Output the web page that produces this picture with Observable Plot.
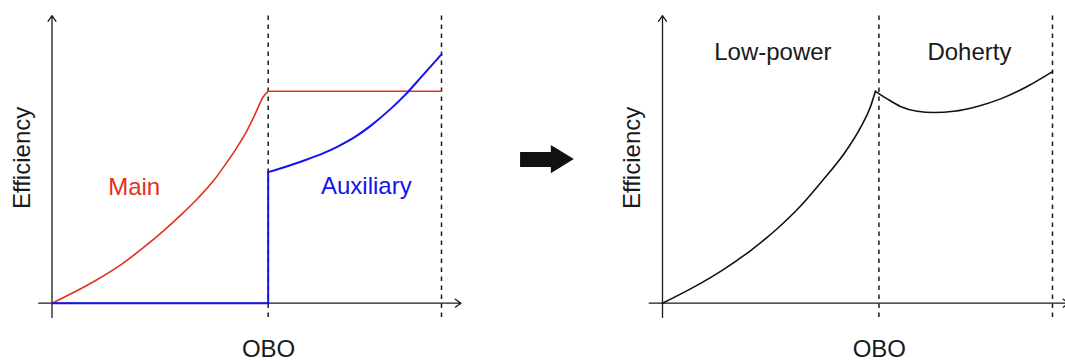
<!DOCTYPE html>
<html>
<head>
<meta charset="utf-8">
<script src="https://cdn.jsdelivr.net/npm/d3@7"></script>
<script src="https://cdn.jsdelivr.net/npm/@observablehq/plot@0.6"></script>
<style>
  html, body { margin: 0; padding: 0; background: #fff; overflow: hidden; }
  #wrap { position: relative; width: 1065px; height: 361px; }
  #left, #right { position: absolute; top: 0; }
  #left { left: 0; }
  #right { left: 610px; }
  svg { overflow: hidden; }
</style>
</head>
<body>
<div id="wrap"><div id="left"></div><div id="right"></div></div>
<script>
// ---------- data (OBO in arbitrary units 0..10, efficiency in arbitrary units) ----------
const boundaries = [5.55, 10];               // dashed OBO boundaries

// Left panel: Main amplifier
const mainRiseOBO = [0, 1.12, 1.80, 2.36, 2.87, 3.34, 3.77, 4.15, 4.45, 4.75, 5.01, 5.22, 5.42, 5.55];
const mainRiseEff = [0, 0.75, 1.30, 1.85, 2.40, 2.95, 3.50, 4.05, 4.58, 5.15, 5.71, 6.26, 6.81, 7.00];
const mainFlatOBO = [5.55, 10];
const mainFlatEff = [7.00, 7.00];

// Left panel: Auxiliary amplifier
const auxOffOBO = [0, 5.55, 5.55];
const auxOffEff = [0, 0, 4.33];
const auxRiseOBO = [5.55, 6.08, 6.51, 6.94, 7.36, 7.79, 8.22, 8.65, 9.08, 9.50, 10.0];
const auxRiseEff = [4.33, 4.54, 4.73, 4.94, 5.19, 5.50, 5.90, 6.37, 6.90, 7.50, 8.22];

// Right panel: combined efficiency
const lowOBO = [0, 0.80, 1.57, 2.26, 2.94, 3.54, 4.14, 4.65, 5.08, 5.33, 5.46];
const lowEff = [0, 0.53, 1.12, 1.74, 2.46, 3.21, 4.11, 4.93, 5.81, 6.48, 7.00];
const dohOBO = [5.46, 5.76, 6.10, 6.53, 6.96, 7.47, 8.07, 8.67, 9.35, 10.0];
const dohEff = [7.00, 6.75, 6.50, 6.34, 6.30, 6.34, 6.50, 6.75, 7.16, 7.65];

// Text labels
const leftLabels  = ["Main", "Auxiliary"];
const rightLabels = ["Low-power", "Doherty"];
const xTitle = "OBO";
const yTitle = "Efficiency";

// ---------- layout / style ----------
const RED = "#e2311f", BLUE = "#1414ee", INK = "#1a1a1a";
const FONT = "'Liberation Sans', Arial, Helvetica, sans-serif";
const yTop = 9.5, yBot = -0.47, xStart = -0.34;

const pts = (xs, ys) => xs.map((x, i) => ({x, y: ys[i]}));

function axesMarks(xEnd) {
  const axisLines = [
    {x1: xStart, y1: 0, x2: xEnd, y2: 0},
    {x1: 0, y1: yBot, x2: 0, y2: yTop}
  ];
  return [
    Plot.ruleX(boundaries.map(b => ({x: b, y1: yBot, y2: yTop})), {x: "x", y1: "y1", y2: "y2",
      stroke: INK, strokeWidth: 1.5, strokeDasharray: "4.5,4.5"}),
    Plot.arrow(axisLines, {x1: "x1", y1: "y1", x2: "x2", y2: "y2",
      stroke: INK, strokeWidth: 1.3, headLength: 8, headAngle: 70})
  ];
}

function label(text, x, y, fill, rotate = 0) {
  return Plot.text([{text, x, y}], {x: "x", y: "y", text: "text", fill, fontSize: 24,
    rotate, textAnchor: "middle", lineAnchor: "bottom", fontFamily: FONT});
}

function titleMarks() {
  return [
    label(xTitle, 5.56, -1.79, INK),
    label(yTitle, -0.565, 4.8, INK, -90)
  ];
}

const common = {
  height: 361,
  marginTop: 0,
  marginBottom: 58.3,
  x: {domain: [0, 10], axis: null},
  y: {domain: [0, 10], axis: null},
  style: {fontFamily: FONT, background: "transparent", overflow: "hidden"}
};

// Transition arrow (outline in left-panel units)
const arrowX  = [12.03, 12.82, 12.82, 13.41];
const arrowY1 = [4.48, 4.48, 4.28, 4.75];
const arrowY2 = [4.98, 4.98, 5.21, 4.75];

const left = Plot.plot({
  ...common,
  width: 610,
  marginLeft: 51.5,
  marginRight: 169,
  marks: [
    ...axesMarks(10.5),
    Plot.line(pts(mainRiseOBO, mainRiseEff), {x: "x", y: "y", stroke: RED, strokeWidth: 1.6, curve: "monotone-x"}),
    Plot.line(pts(mainFlatOBO, mainFlatEff), {x: "x", y: "y", stroke: RED, strokeWidth: 1.6}),
    Plot.line(pts(auxOffOBO, auxOffEff), {x: "x", y: "y", stroke: BLUE, strokeWidth: 2}),
    Plot.line(pts(auxRiseOBO, auxRiseEff), {x: "x", y: "y", stroke: BLUE, strokeWidth: 2, curve: "monotone-x"}),
    label(leftLabels[0], 2.11, 3.56, RED),
    label(leftLabels[1], 8.07, 3.61, BLUE),
    ...titleMarks(),
    Plot.areaY(arrowX.map((x, i) => ({x, y1: arrowY1[i], y2: arrowY2[i]})),
      {x: "x", y1: "y1", y2: "y2", fill: "#111", curve: "linear"})
  ]
});

const right = Plot.plot({
  ...common,
  width: 455,
  marginLeft: 52,
  marginRight: 13,
  marks: [
    ...axesMarks(10.42),
    Plot.line(pts(lowOBO, lowEff), {x: "x", y: "y", stroke: "#111", strokeWidth: 1.6, curve: "monotone-x"}),
    Plot.line(pts(dohOBO, dohEff), {x: "x", y: "y", stroke: "#111", strokeWidth: 1.6, curve: "monotone-x"}),
    label(rightLabels[0], 2.83, 8.04, INK),
    label(rightLabels[1], 7.87, 8.04, INK),
    ...titleMarks()
  ]
});

document.getElementById("left").appendChild(left);
document.getElementById("right").appendChild(right);
</script>
</body>
</html>
